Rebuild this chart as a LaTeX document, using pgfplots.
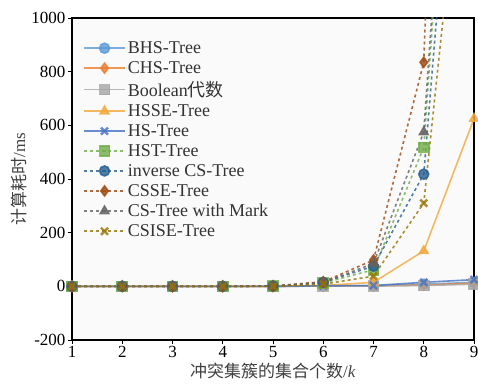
\documentclass[border=0pt]{standalone}
\usepackage{fontspec}
\setmainfont{Liberation Serif}
\newfontfamily\cjk{Noto Sans CJK SC}
\usepackage{pgfplots}
\pgfplotsset{compat=1.18}
\definecolor{c1}{HTML}{5B9BD5}
\definecolor{c2}{HTML}{ED7D31}
\definecolor{c3}{HTML}{A5A5A5}
\definecolor{c4}{HTML}{F2A93B}
\definecolor{c5}{HTML}{4472C4}
\definecolor{c6}{HTML}{70AD47}
\definecolor{c7}{HTML}{255E91}
\definecolor{c8}{HTML}{9E480E}
\definecolor{c9}{HTML}{636363}
\definecolor{c10}{HTML}{997300}
\begin{document}
\begin{tikzpicture}[x=1pt,y=1pt]
\begin{axis}[
  scale only axis, width=402pt, height=322pt,
  xmin=1, xmax=9, ymin=-200, ymax=1000,
  xtick={1,...,9}, ytick={-200,0,200,400,600,800,1000},
  yticklabels={-200,0,200,400,600,800,1000},
  tick pos=left, tick align=outside, major tick length=4pt,
  /pgf/number format/assume math mode=true,
  tick label style={font=\fontsize{17}{20}\selectfont},
  yticklabel style={xshift=1pt},
  xticklabel style={yshift=1pt},
  axis line style={line width=1.3pt},
  tick style={line width=0.9pt, black},
  axis background/.style={fill=black!2},
  xlabel={{\cjk 冲突集簇的集合个数}/\textit{k}},
  ylabel={{\cjk 计算耗时}/ms},
  label style={font=\fontsize{17}{20}\selectfont, text=black!75},
  xlabel style={yshift=2pt},
  ylabel style={yshift=-2pt},
  legend style={draw=none, fill=none, at={(0.02,0.94)}, anchor=north west,
     font=\fontsize{18}{20}\selectfont, row sep=2.5pt, text=black!80,
     nodes={inner xsep=2pt}},
  legend cell align=left,
  legend image code/.code={%
    \draw[line width=1.6pt, mark repeat=2,mark phase=2] plot coordinates {(0cm,0cm) (0.72cm,0cm) (1.44cm,0cm)};},
  every axis plot/.append style={line width=1.6pt, mark size=5pt, opacity=0.8},
]
\addplot[c1, mark=*] coordinates {(1,0)(2,0)(3,0)(4,0)(5,0)(6,2)(7,3)(8,8)(9,15)};
\addlegendentry{BHS-Tree}
\addplot[c2, mark=diamond*] coordinates {(1,0)(2,0)(3,0)(4,0)(5,0)(6,1)(7,2)(8,5)(9,12)};
\addlegendentry{CHS-Tree}
\addplot[c3, mark=square*] coordinates {(1,0)(2,0)(3,0)(4,0)(5,0)(6,1)(7,1)(8,3)(9,8)};
\addlegendentry{Boolean{\cjk 代数}}
\addplot[c4, mark=triangle*] coordinates {(1,0)(2,0)(3,0)(4,0)(5,0)(6,3)(7,15)(8,132)(9,625)};
\addlegendentry{HSSE-Tree}
\addplot[c5, mark=x, mark options={line width=2.4pt}] coordinates {(1,0)(2,0)(3,0)(4,0)(5,0)(6,2)(7,3)(8,15)(9,25)};
\addlegendentry{HS-Tree}
\addplot[c6, dashed, mark=square*, mark options={solid}] coordinates {(1,0)(2,0)(3,0)(4,0)(5,1)(6,12)(7,62)(8,518)(9,3200)};
\addlegendentry{HST-Tree}
\addplot[c7, dashed, mark=*, mark options={solid}] coordinates {(1,0)(2,0)(3,0)(4,0)(5,1)(6,15)(7,75)(8,418)(9,2700)};
\addlegendentry{inverse CS-Tree}
\addplot[c8, dashed, mark=diamond*, mark options={solid}] coordinates {(1,0)(2,0)(3,0)(4,0)(5,1)(6,17)(7,98)(8,835)(9,6000)};
\addlegendentry{CSSE-Tree}
\addplot[c9, dashed, mark=triangle*, mark options={solid}] coordinates {(1,0)(2,0)(3,0)(4,0)(5,1)(6,14)(7,85)(8,575)(9,3300)};
\addlegendentry{CS-Tree with Mark}
\addplot[c10, dashed, mark=x, mark options={solid, line width=2.4pt}] coordinates {(1,0)(2,0)(3,0)(4,0)(5,0)(6,8)(7,38)(8,310)(9,2100)};
\addlegendentry{CSISE-Tree}
\end{axis}
\pgfresetboundingbox
\path[use as bounding box] ([shift={(-72pt,-50pt)}]current axis.south west) rectangle ([shift={(4pt,18pt)}]current axis.north east);
\end{tikzpicture}
\end{document}
